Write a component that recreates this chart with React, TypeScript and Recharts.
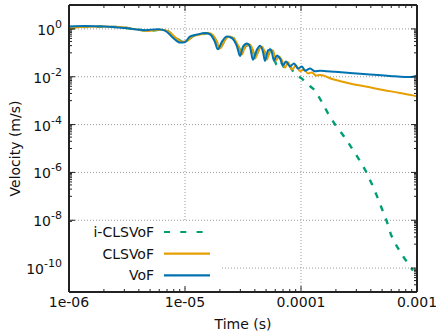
import React from 'react';
import { LineChart, Line, XAxis, YAxis, ReferenceLine, Legend } from 'recharts';

// ---- data (time in s, velocity in m/s) ----
const timeVoF = [1e-6, 1.37e-6, 2.04e-6, 3.04e-6, 4.52e-6, 5.85e-6, 6.72e-6, 7.88e-6, 9.06e-6, 1.0e-5, 1.10e-5, 1.27e-5, 1.49e-5, 1.64e-5, 1.81e-5, 1.92e-5, 2.08e-5, 2.30e-5, 2.54e-5, 2.81e-5, 2.98e-5, 3.16e-5, 3.42e-5, 3.63e-5, 3.85e-5, 4.18e-5, 4.44e-5, 4.70e-5, 4.89e-5, 5.2e-5, 5.51e-5, 5.85e-5, 6.21e-5, 6.59e-5, 7.0e-5, 7.43e-5, 8.04e-5, 8.71e-5, 9.42e-5, 1.02e-4, 1.08e-4, 1.20e-4, 1.32e-4, 1.46e-4, 1.67e-4, 1.96e-4, 2.64e-4, 3.93e-4, 5.85e-4, 7.88e-4, 9.06e-4, 1e-3];
const velVoF = [1.25, 1.31, 1.25, 1.08, 0.89, 0.98, 0.85, 0.43, 0.27, 0.28, 0.48, 0.58, 0.67, 0.60, 0.29, 0.14, 0.29, 0.48, 0.41, 0.18, 0.074, 0.18, 0.245, 0.18, 0.052, 0.14, 0.20, 0.11, 0.046, 0.126, 0.138, 0.048, 0.078, 0.058, 0.030, 0.043, 0.027, 0.036, 0.022, 0.027, 0.018, 0.022, 0.017, 0.018, 0.017, 0.016, 0.0144, 0.0125, 0.0108, 0.0098, 0.0098, 0.0113];

const timeCLSVoF = [1e-6, 1.24e-6, 1.85e-6, 2.75e-6, 3.71e-6, 4.80e-6, 6.09e-6, 7.13e-6, 8.36e-6, 9.42e-6, 1.04e-5, 1.17e-5, 1.35e-5, 1.58e-5, 1.74e-5, 1.89e-5, 2.0e-5, 2.17e-5, 2.39e-5, 2.64e-5, 2.92e-5, 3.10e-5, 3.29e-5, 3.56e-5, 3.78e-5, 4.01e-5, 4.34e-5, 4.61e-5, 4.89e-5, 5.09e-5, 5.41e-5, 5.74e-5, 6.09e-5, 6.46e-5, 6.85e-5, 7.28e-5, 7.73e-5, 8.36e-5, 9.06e-5, 9.80e-5, 1.06e-4, 1.15e-4, 1.24e-4, 1.35e-4, 1.46e-4, 1.89e-4, 2.64e-4, 3.71e-4, 5.09e-4, 7.13e-4, 9.24e-4, 1e-3];
const velCLSVoF = [0.98, 1.19, 1.25, 1.19, 0.98, 0.81, 0.93, 0.81, 0.42, 0.29, 0.31, 0.50, 0.58, 0.67, 0.55, 0.27, 0.15, 0.29, 0.48, 0.40, 0.166, 0.085, 0.18, 0.23, 0.166, 0.058, 0.14, 0.18, 0.10, 0.053, 0.126, 0.126, 0.048, 0.071, 0.048, 0.024, 0.040, 0.020, 0.030, 0.017, 0.020, 0.0138, 0.0151, 0.0112, 0.0117, 0.0078, 0.0052, 0.0038, 0.0028, 0.0021, 0.00166, 0.0015];

const timeICLSVoF = [1e-6, 1.24e-6, 1.85e-6, 2.75e-6, 3.71e-6, 4.80e-6, 6.09e-6, 7.13e-6, 8.36e-6, 9.42e-6, 1.04e-5, 1.17e-5, 1.35e-5, 1.58e-5, 1.74e-5, 1.89e-5, 2.0e-5, 2.17e-5, 2.39e-5, 2.64e-5, 2.92e-5, 3.10e-5, 3.29e-5, 3.56e-5, 3.78e-5, 4.01e-5, 4.34e-5, 4.61e-5, 4.89e-5, 5.09e-5, 5.41e-5, 6.09e-5, 6.59e-5, 7.28e-5, 8.04e-5, 8.87e-5, 1.0e-4, 1.10e-4, 1.20e-4, 1.32e-4, 1.52e-4, 1.71e-4, 1.96e-4, 2.35e-4, 2.75e-4, 3.16e-4, 3.63e-4, 4.09e-4, 4.52e-4, 4.99e-4, 5.51e-4, 5.97e-4, 6.73e-4, 7.73e-4, 9.24e-4];
const velICLSVoF = [0.98, 1.19, 1.25, 1.19, 0.98, 0.81, 0.93, 0.81, 0.42, 0.29, 0.31, 0.50, 0.58, 0.67, 0.55, 0.27, 0.15, 0.29, 0.48, 0.40, 0.166, 0.085, 0.18, 0.23, 0.166, 0.058, 0.14, 0.18, 0.10, 0.053, 0.126, 0.035, 0.052, 0.020, 0.027, 0.0126, 0.0089, 0.0060, 0.0040, 0.0027, 8.5e-4, 2.95e-4, 1.03e-4, 3.2e-5, 1.02e-5, 3.55e-6, 1.12e-6, 3.2e-7, 1.02e-7, 2.95e-8, 8.5e-9, 2.45e-9, 7.8e-10, 2.7e-10, 7.8e-11];

// ---- ticks / labels ----
const xMajorTicks = [1e-6, 1e-5, 1e-4, 1e-3];
const xTickLabels = ['1e-06', '1e-05', '0.0001', '0.001'];
const yMajorTicks = [1e-10, 1e-8, 1e-6, 1e-4, 1e-2, 1];
const yTickExponents = ['-10', '-8', '-6', '-4', '-2', '0'];
const xGridValues = [1e-5, 1e-4];
const yGridValues = [1e-10, 1e-8, 1e-6, 1e-4, 1e-2, 1];

const seriesNames = ['i-CLSVoF', 'CLSVoF', 'VoF'];
const seriesColors = ['#009E73', '#E69F00', '#0072B2'];

const xMinorTicks: number[] = [];
for (const d of [1e-6, 1e-5, 1e-4]) for (let k = 2; k <= 9; k++) xMinorTicks.push(+(k * d).toPrecision(3));
const yMinorTicks: number[] = [];
for (const d of [1e-11, 1e-9, 1e-7, 1e-5, 1e-3, 1e-1]) for (let k = 1; k <= 9; k++) yMinorTicks.push(+(k * d).toPrecision(3));
const xAllTicks = [...xMajorTicks, ...xMinorTicks].sort((a, b) => a - b);
const yAllTicks = [...yMajorTicks, ...yMinorTicks].sort((a, b) => a - b);

const iclsData = timeICLSVoF.map((t, i) => ({ t, v: velICLSVoF[i] }));
const clsData = timeCLSVoF.map((t, i) => ({ t, v: velCLSVoF[i] }));
const vofData = timeVoF.map((t, i) => ({ t, v: velVoF[i] }));

const FONT = '"DejaVu Sans", sans-serif';
const AXIS = '#222';

const XTickBottom = (props: any) => {
  const { x, y, payload } = props;
  const i = xMajorTicks.indexOf(payload.value);
  const major = i >= 0;
  return (
    <g>
      <line x1={x} y1={y} x2={x} y2={y - (major ? 6 : 3)} stroke={AXIS} strokeWidth={1} />
      {major && (
        <text x={x} y={y + 15} textAnchor="middle" fontSize={14} fontFamily={FONT} fill="#111">
          {xTickLabels[i]}
        </text>
      )}
    </g>
  );
};

const XTickTop = (props: any) => {
  const { x, y, payload } = props;
  const major = xMajorTicks.indexOf(payload.value) >= 0;
  return <line x1={x} y1={y} x2={x} y2={y + (major ? 6 : 3)} stroke={AXIS} strokeWidth={1} />;
};

const YTickLeft = (props: any) => {
  const { x, y, payload } = props;
  const i = yMajorTicks.indexOf(payload.value);
  const major = i >= 0;
  return (
    <g>
      <line x1={x} y1={y} x2={x + (major ? 6 : 3)} y2={y} stroke={AXIS} strokeWidth={1} />
      {major && (
        <text x={x - 7} y={y + 6} textAnchor="end" fontSize={14} fontFamily={FONT} fill="#111">
          <tspan>10</tspan>
          <tspan dy={-7} fontSize={11}>{yTickExponents[i]}</tspan>
        </text>
      )}
    </g>
  );
};

const YTickRight = (props: any) => {
  const { x, y, payload } = props;
  const major = yMajorTicks.indexOf(payload.value) >= 0;
  return <line x1={x} y1={y} x2={x - (major ? 6 : 3)} y2={y} stroke={AXIS} strokeWidth={1} />;
};

const YLabel = (props: any) => {
  const vb = props.viewBox || { x: 0, y: 5, width: 69, height: 287 };
  const cx = vb.x + 20;
  const cy = vb.y + vb.height / 2;
  return (
    <text x={cx} y={cy} transform={`rotate(-90 ${cx} ${cy})`} textAnchor="middle" fontSize={14} fontFamily={FONT} fill="#111">
      Velocity (m/s)
    </text>
  );
};

const XLabel = (props: any) => {
  const vb = props.viewBox || { x: 69, y: 292, width: 348, height: 44 };
  return (
    <text x={vb.x + vb.width / 2} y={vb.y + 37} textAnchor="middle" fontSize={14} fontFamily={FONT} fill="#111">
      Time (s)
    </text>
  );
};

const LegendBox = () => (
  <svg width={150} height={64} style={{ display: 'block' }}>
    {seriesNames.map((n, i) => {
      const cy = 10 + i * 21.7;
      return (
        <g key={n}>
          <text x={84} y={cy + 5} textAnchor="end" fontSize={14} fontFamily={FONT} fill="#111">
            {n}
          </text>
          <line x1={94} x2={140} y1={cy} y2={cy} stroke={seriesColors[i]} strokeWidth={2.2} strokeDasharray={i === 0 ? '6 10.3' : undefined} />
        </g>
      );
    })}
  </svg>
);

export default function App() {
  return (
    <div style={{ position: 'absolute', left: 0, top: 0, width: 436, height: 336, background: '#fff' }}>
      <LineChart width={436} height={336} margin={{ top: 0, right: 0, bottom: 0, left: 0 }}>
        <XAxis
          dataKey="t"
          type="number"
          scale="log"
          domain={[1e-6, 1e-3]}
          allowDataOverflow
          ticks={xAllTicks}
          interval={0}
          tick={<XTickBottom />}
          tickSize={0}
          tickMargin={0}
          tickLine={false}
          height={44}
          axisLine={{ stroke: AXIS, strokeWidth: 2 }}
          label={<XLabel />}
        />
        <XAxis
          xAxisId="top"
          orientation="top"
          dataKey="t"
          type="number"
          scale="log"
          domain={[1e-6, 1e-3]}
          allowDataOverflow
          ticks={xAllTicks}
          interval={0}
          tick={<XTickTop />}
          tickSize={0}
          tickMargin={0}
          tickLine={false}
          height={5}
          axisLine={{ stroke: AXIS, strokeWidth: 2 }}
        />
        <YAxis
          type="number"
          scale="log"
          domain={[1e-11, 10]}
          allowDataOverflow
          ticks={yAllTicks}
          interval={0}
          tick={<YTickLeft />}
          tickSize={0}
          tickMargin={0}
          tickLine={false}
          width={69}
          axisLine={{ stroke: AXIS, strokeWidth: 2 }}
          label={<YLabel />}
        />
        <YAxis
          yAxisId="right"
          orientation="right"
          type="number"
          scale="log"
          domain={[1e-11, 10]}
          allowDataOverflow
          ticks={yAllTicks}
          interval={0}
          tick={<YTickRight />}
          tickSize={0}
          tickMargin={0}
          tickLine={false}
          width={19}
          axisLine={{ stroke: AXIS, strokeWidth: 2 }}
        />
        {xGridValues.map((v) => (
          <ReferenceLine key={'gx' + v} x={v} stroke="#999" strokeWidth={1} strokeDasharray="1 2" />
        ))}
        {yGridValues.map((v) => (
          <ReferenceLine key={'gy' + v} y={v} stroke="#999" strokeWidth={1} strokeDasharray="1 2" />
        ))}
        <Line
          xAxisId="top"
          yAxisId="right"
          data={vofData}
          dataKey="v"
          stroke="none"
          dot={false}
          activeDot={false}
          legendType="none"
          isAnimationActive={false}
        />
        <Line
          data={iclsData}
          dataKey="v"
          name={seriesNames[0]}
          type="linear"
          stroke={seriesColors[0]}
          strokeWidth={2.4}
          strokeDasharray="6 8"
          dot={false}
          isAnimationActive={false}
        />
        <Line
          data={clsData}
          dataKey="v"
          name={seriesNames[1]}
          type="monotone"
          stroke={seriesColors[1]}
          strokeWidth={2}
          dot={false}
          isAnimationActive={false}
        />
        <Line
          data={vofData}
          dataKey="v"
          name={seriesNames[2]}
          type="monotone"
          stroke={seriesColors[2]}
          strokeWidth={2}
          dot={false}
          isAnimationActive={false}
        />
        <Legend
          layout="vertical"
          align="center"
          verticalAlign="middle"
          content={<LegendBox />}
          wrapperStyle={{ left: 70, top: 222, width: 150, height: 64, backgroundColor: '#fff', margin: 0, padding: 0 }}
        />
      </LineChart>
    </div>
  );
}
